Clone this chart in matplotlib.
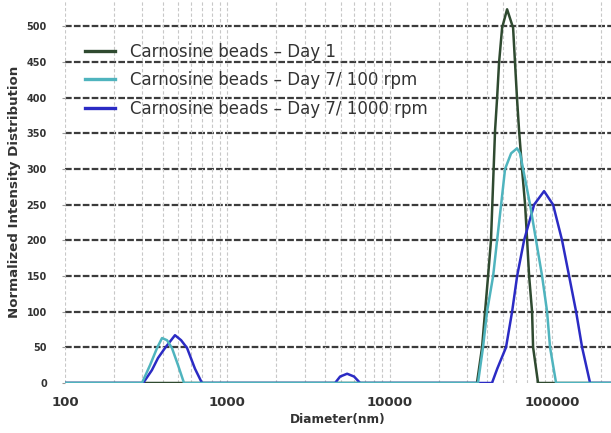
import numpy as np
import matplotlib
matplotlib.use("Agg")
import matplotlib.pyplot as plt
from matplotlib.ticker import LogLocator, FixedLocator, NullFormatter

# values (diameter in nm, normalized intensity)
day1_d = [100, 34500, 37100, 38700, 40400, 42100, 44600, 45900, 47200, 49300, 52900,
          57600, 59200, 60900, 62700, 65400, 68300, 70300, 72300, 75400, 76500, 82100, 230000]
day1_i = [0, 0, 50, 100, 150, 200, 354, 399, 449, 498, 524,
          498, 449, 399, 354, 300, 250, 200, 150, 100, 50, 0, 0]

d100_d = [100, 298, 334, 369, 396, 425, 456, 497, 541,
          35000, 37600, 39800, 43400, 45900, 48600, 51400, 56000, 60900, 63600, 66400,
          73300, 79800, 86900, 93300, 97300, 106000, 230000]
d100_i = [0, 0, 25, 49, 63, 60, 49, 25, 0,
          0, 50, 100, 150, 200, 250, 300, 322, 329, 322, 300,
          250, 200, 150, 100, 50, 0, 0]

d1000_d = [100, 303, 343, 374, 413, 476, 519, 565, 632, 698,
           4610, 4950, 5470, 6040, 6580,
           42700, 46000, 52100, 56800, 61000, 67300, 77600, 89400, 101600, 115400,
           127500, 140800, 153300, 171700, 230000]
d1000_i = [0, 0, 18, 35, 49, 67, 60, 49, 20, 0,
           0, 9, 13, 9, 0,
           0, 20, 50, 100, 150, 200, 250, 269, 250, 200,
           150, 100, 50, 0, 0]

labels = ["Carnosine beads \u2013 Day 1",
          "Carnosine beads \u2013 Day 7/ 100 rpm",
          "Carnosine beads \u2013 Day 7/ 1000 rpm"]
colors = ["#2f4a30", "#4fb4be", "#2b2bc4"]

yticks = list(range(0, 501, 50))
xticks = [100, 1000, 10000, 100000]
xtick_labels = ["100", "1000", "10000", "100000"]

fig = plt.figure(figsize=(6.11, 4.33), dpi=100)
ax = fig.add_axes([65 / 611, 50 / 433, 546 / 611, 383 / 433])

ax.plot(day1_d, day1_i, color=colors[0], lw=1.8, label=labels[0], zorder=3)
ax.plot(d1000_d, d1000_i, color=colors[2], lw=1.8, label=labels[2], zorder=3)
ax.plot(d100_d, d100_i, color=colors[1], lw=1.8, label=labels[1], zorder=4)

ax.set_xscale("log")
ax.set_xlim(100, 231000)
ax.set_ylim(0, 537)

ax.xaxis.set_major_locator(FixedLocator(xticks))
ax.set_xticklabels(xtick_labels)
ax.xaxis.set_minor_locator(LogLocator(base=10, subs=np.arange(2, 10)))
ax.xaxis.set_minor_formatter(NullFormatter())
ax.set_yticks(yticks)

# grid: dark dashed horizontals, light dashed verticals
for v in yticks[1:]:
    ax.axhline(v, color="#3c3c3c", lw=1.6, ls=(0, (3, 1)), zorder=1)
ax.grid(True, which="both", axis="x", color="#c8c8c8", lw=0.8, ls=(0, (3, 2)), zorder=0)

for s in ax.spines.values():
    s.set_visible(False)
ax.tick_params(axis="x", which="both", length=0, pad=9, labelsize=9.5, labelcolor="#333333")
ax.tick_params(axis="y", length=2, color="#999999", pad=11, labelsize=7, labelcolor="#333333")
for t in ax.get_xticklabels() + ax.get_yticklabels():
    t.set_fontweight("bold")

ax.set_xlabel("Diameter(nm)", fontsize=8.7, fontweight="bold", color="#333333", labelpad=3)
ax.set_ylabel("Normalized Intensity Distribution", fontsize=9.6, fontweight="bold",
              color="#333333", labelpad=4)

h, l = ax.get_legend_handles_labels()
order = [0, 2, 1]
leg = ax.legend([h[i] for i in order], [l[i] for i in order], loc="upper left",
                bbox_to_anchor=(0.037, 0.889), frameon=False, fontsize=12,
                borderpad=0, borderaxespad=0, handlelength=1.8,
                handletextpad=0.9, labelspacing=0.64)
for t in leg.get_texts():
    t.set_color("#333333")
for ln in leg.get_lines():
    ln.set_linewidth(2.4)

fig.savefig("out.png", dpi=100)
